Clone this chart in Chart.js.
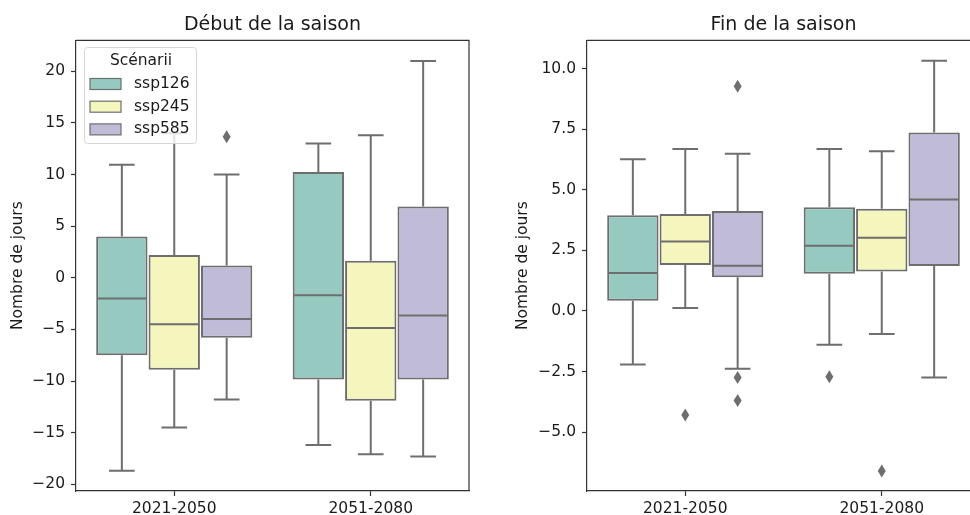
<!DOCTYPE html>
<html>
<head>
<meta charset="utf-8">
<script src="https://cdn.jsdelivr.net/npm/chart.js@4"></script>
<style>
    html, body { margin: 0; padding: 0; background: #fff; overflow: hidden; }
    #wrap { position: relative; width: 970px; height: 515px; overflow: hidden; }
    .panel { position: absolute; top: 0; }
</style>
</head>
<body>
<div id="wrap">
    <div class="panel" style="left:0px"><canvas id="debut" width="480" height="515"></canvas></div>
    <div class="panel" style="left:490px"><canvas id="fin" width="500" height="515"></canvas></div>
</div>
<script>
const periods = ['2021-2050', '2051-2080'];
const scenarios = ['ssp126', 'ssp245', 'ssp585'];

// values per scenario, then per period
const debutLow = [[-18.7, -16.2], [-14.5, -17.1], [-11.8, -17.3]];
const debutQ1 = [[-7.5, -9.85], [-8.9, -11.9], [-5.8, -9.85]];
const debutMed = [[-2.0, -1.7], [-4.5, -4.87], [-4.0, -3.65]];
const debutQ3 = [[4.0, 10.25], [2.2, 1.65], [1.2, 6.9]];
const debutHigh = [[10.95, 13.0], [14.0, 13.8], [10.0, 21.0]];
const debutOut = [[[], []], [[], []], [[13.65], []]];

const finLow = [[-2.21, -1.39], [0.12, -0.95], [-2.39, -2.75]];
const finQ1 = [[0.42, 1.54], [1.9, 1.63], [1.39, 1.86]];
const finMed = [[1.57, 2.69], [2.87, 3.02], [1.87, 4.6]];
const finQ3 = [[3.95, 4.28], [4.0, 4.22], [4.13, 7.37]];
const finHigh = [[6.26, 6.68], [6.68, 6.59], [6.49, 10.33]];
const finOut = [[[], [-2.71]], [[-4.29], [-6.6]], [[9.27, -2.75, -3.7], []]];

const boxColors = ['#96cac1', '#f5f5be', '#c0bcd8'];
const lineGray = '#6e6e6e';
const frameColor = '#333333';
const FONT = "'DejaVu Sans', sans-serif";

const minus = (s) => String(s).replace('-', '\u2212');

// whiskers, medians and outliers on top of the floating bars
const boxPlugin = {
    id: 'boxes',
    afterDatasetsDraw(chart, args, opts) {
        const ctx = chart.ctx;
        const y = chart.scales.y;
        ctx.save();
        ctx.strokeStyle = lineGray;
        ctx.fillStyle = lineGray;
        ctx.lineWidth = 2;
        chart.data.datasets.forEach((ds, i) => {
            chart.getDatasetMeta(i).data.forEach((bar, j) => {
                const x = bar.x;
                const half = bar.width / 2;
                const q1 = y.getPixelForValue(opts.q1[i][j]);
                const q3 = y.getPixelForValue(opts.q3[i][j]);
                const lo = y.getPixelForValue(opts.low[i][j]);
                const hi = y.getPixelForValue(opts.high[i][j]);
                const med = y.getPixelForValue(opts.med[i][j]);
                ctx.beginPath();
                ctx.moveTo(x, q3); ctx.lineTo(x, hi);
                ctx.moveTo(x - half / 2, hi); ctx.lineTo(x + half / 2, hi);
                ctx.moveTo(x, q1); ctx.lineTo(x, lo);
                ctx.moveTo(x - half / 2, lo); ctx.lineTo(x + half / 2, lo);
                ctx.moveTo(x - half + 1, med); ctx.lineTo(x + half - 1, med);
                ctx.stroke();
                opts.out[i][j].forEach((v) => {
                    const py = y.getPixelForValue(v);
                    ctx.beginPath();
                    ctx.moveTo(x, py - 6.5);
                    ctx.lineTo(x + 4, py);
                    ctx.lineTo(x, py + 6.5);
                    ctx.lineTo(x - 4, py);
                    ctx.closePath();
                    ctx.fill();
                });
            });
        });
        ctx.restore();
    },
    afterDraw(chart) {
        // top and right spines
        const {ctx, chartArea: a} = chart;
        ctx.save();
        ctx.strokeStyle = frameColor;
        ctx.lineWidth = 1.2;
        ctx.beginPath();
        ctx.moveTo(a.left, a.top); ctx.lineTo(a.right, a.top); ctx.lineTo(a.right, a.bottom);
        ctx.stroke();
        ctx.restore();
    }
};

const legendPlugin = {
    id: 'boxLegend',
    afterDraw(chart) {
        const ctx = chart.ctx;
        ctx.save();
        ctx.fillStyle = 'rgba(255,255,255,0.8)';
        ctx.strokeStyle = '#d6d6d6';
        ctx.lineWidth = 1;
        ctx.beginPath();
        ctx.roundRect(84.5, 47.5, 112, 96, 3);
        ctx.fill();
        ctx.stroke();
        ctx.font = '15.5px ' + FONT;
        ctx.fillStyle = '#1a1a1a';
        ctx.textBaseline = 'middle';
        ctx.textAlign = 'center';
        ctx.fillText('Scénarii', 141, 61);
        ctx.textAlign = 'left';
        scenarios.forEach((s, i) => {
            const ry = 84 + i * 22.7;
            ctx.fillStyle = boxColors[i];
            ctx.fillRect(90, ry - 5.5, 31, 11);
            ctx.strokeStyle = lineGray;
            ctx.lineWidth = 1.2;
            ctx.strokeRect(90, ry - 5.5, 31, 11);
            ctx.fillStyle = '#1a1a1a';
            ctx.fillText(s, 134, ry);
        });
        ctx.restore();
    }
};

function createBoxChart(id, cfg) {
    const datasets = scenarios.map((s, i) => ({
        label: s,
        data: periods.map((p, j) => [cfg.q1[i][j], cfg.q3[i][j]]),
        backgroundColor: boxColors[i],
        borderColor: lineGray,
        borderWidth: 2,
        borderSkipped: false,
        categoryPercentage: 0.8,
        barPercentage: 0.98,
    }));

    const plugins = [boxPlugin];
    if (cfg.legend) plugins.push(legendPlugin);

    return new Chart(document.getElementById(id), {
        type: 'bar',
        data: { labels: periods, datasets: datasets },
        plugins: plugins,
        options: {
            responsive: false,
            animation: false,
            layout: { padding: { left: 0, right: cfg.padRight, top: 0, bottom: 0 } },
            scales: {
                x: {
                    afterFit: (s) => { s.height = 24; },
                    grid: {
                        offset: false,
                        drawOnChartArea: false,
                        drawTicks: true,
                        tickLength: 5,
                        tickWidth: 1.2,
                        tickColor: frameColor,
                    },
                    border: { display: true, color: frameColor, width: 1.2 },
                    ticks: {
                        padding: 4,
                        color: '#1a1a1a',
                        font: { family: FONT, size: 15.5 }
                    }
                },
                y: {
                    min: cfg.min,
                    max: cfg.max,
                    afterFit: (s) => { s.width = cfg.axisWidth; },
                    title: {
                        display: true,
                        text: 'Nombre de jours',
                        color: '#1a1a1a',
                        padding: { top: cfg.titlePad, bottom: 0 },
                        font: { family: FONT, size: 15.5 }
                    },
                    grid: {
                        drawOnChartArea: false,
                        drawTicks: true,
                        tickLength: 5,
                        tickWidth: 1.2,
                        tickColor: frameColor,
                    },
                    border: { display: true, color: frameColor, width: 1.2 },
                    ticks: {
                        stepSize: cfg.step,
                        includeBounds: false,
                        autoSkip: false,
                        padding: 6,
                        color: '#1a1a1a',
                        font: { family: FONT, size: 15.5 },
                        callback: cfg.format
                    }
                }
            },
            plugins: {
                legend: { display: false },
                tooltip: { enabled: false },
                title: {
                    display: true,
                    text: cfg.title,
                    fullSize: false,
                    color: '#1a1a1a',
                    padding: { top: 13.5, bottom: 4 },
                    font: { family: FONT, size: 19, weight: 'normal' }
                },
                boxes: {
                    q1: cfg.q1, q3: cfg.q3, med: cfg.med,
                    low: cfg.low, high: cfg.high, out: cfg.out
                }
            }
        }
    });
}

createBoxChart('debut', {
    title: 'Début de la saison',
    q1: debutQ1, q3: debutQ3, med: debutMed, low: debutLow, high: debutHigh, out: debutOut,
    min: -20.65, max: 23.0, step: 5,
    format: (v) => minus(v),
    axisWidth: 76, titlePad: 9, padRight: 11,
    legend: true
});

// the right panel runs past the edge of the figure, as in the source
createBoxChart('fin', {
    title: 'Fin de la saison',
    q1: finQ1, q3: finQ3, med: finMed, low: finLow, high: finHigh, out: finOut,
    min: -7.43, max: 11.17, step: 2.5,
    format: (v) => minus(Number(v).toFixed(1)),
    axisWidth: 97, titlePad: 24, padRight: 10,
    legend: false
});
</script>
</body>
</html>
